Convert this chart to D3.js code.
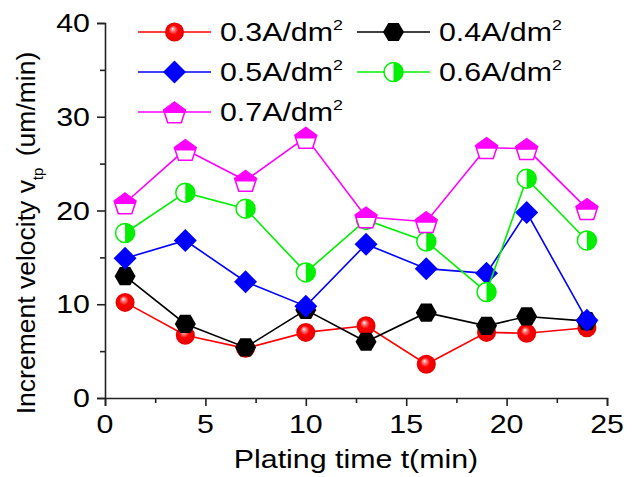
<!DOCTYPE html>
<html>
<head>
<meta charset="utf-8">
<script src="https://cdn.jsdelivr.net/npm/d3@7"></script>
<style>
  html, body { margin: 0; padding: 0; background: #fff; }
  svg { display: block; }
  text { font-family: Arial, "Liberation Sans", sans-serif; fill: #000; }
</style>
</head>
<body>
<div id="chart"></div>
<script>
// ---- data ----
const times = [1, 4, 7, 10, 13, 16, 19, 21, 24];
const seriesNames = ["0.3A/dm", "0.4A/dm", "0.5A/dm", "0.6A/dm", "0.7A/dm"];
const v03 = [10.2, 6.7, 5.3, 7.0, 7.7, 3.6, 7.0, 6.9, 7.5];
const v04 = [13.0, 7.9, 5.4, 9.4, 6.0, 9.1, 7.7, 8.7, 8.2];
const v05 = [14.9, 16.8, 12.4, 9.8, 16.4, 13.8, 13.3, 19.8, 8.3];
const v06 = [17.6, 21.9, 20.2, 13.4, 19.0, 16.7, 11.3, 23.4, 16.8];
const v07 = [20.8, 26.5, 23.2, 27.8, 19.3, 18.8, 26.7, 26.6, 20.2];
const xTicks = [0, 5, 10, 15, 20, 25];
const yTicks = [0, 10, 20, 30, 40];
const xMinor = [2.5, 7.5, 12.5, 17.5, 22.5];
const yMinor = [5, 15, 25, 35];
const xTitle = "Plating time t(min)";

const colors = ["#ff0000", "#000000", "#0000ff", "#00f000", "#ff00ff"];
const markers = ["sphere", "hexagon", "diamond", "halfcircle", "pentagon"];
const values = [v03, v04, v05, v06, v07];

const W = 638, H = 477;
const svg = d3.select("#chart").append("svg").attr("width", W).attr("height", H);
const defs = svg.append("defs");
const grad = defs.append("radialGradient").attr("id", "sphere")
  .attr("cx", "50%").attr("cy", "50%").attr("r", "55%").attr("fx", "40%").attr("fy", "32%");
grad.append("stop").attr("offset", "0%").attr("stop-color", "#ffffff");
grad.append("stop").attr("offset", "15%").attr("stop-color", "#ff9090");
grad.append("stop").attr("offset", "45%").attr("stop-color", "#ff0000");
grad.append("stop").attr("offset", "100%").attr("stop-color", "#e00000");

const x = d3.scaleLinear().domain([0, 25]).range([105, 607]);
const y = d3.scaleLinear().domain([0, 40]).range([398, 23]);
const SX = 1.19; // horizontal stretch of text
const FS = 25.5;

// axes
const axB = svg.append("g").attr("transform", `translate(0,${y(0)})`)
  .call(d3.axisBottom(x).tickValues(xTicks).tickSize(8).tickFormat(""));
const axBm = svg.append("g").attr("transform", `translate(0,${y(0)})`)
  .call(d3.axisBottom(x).tickValues(xMinor).tickSize(5).tickFormat(""));
const axL = svg.append("g").attr("transform", `translate(${x(0)},0)`)
  .call(d3.axisLeft(y).tickValues(yTicks).tickSize(8).tickFormat(""));
const axLm = svg.append("g").attr("transform", `translate(${x(0)},0)`)
  .call(d3.axisLeft(y).tickValues(yMinor).tickSize(5).tickFormat(""));
[axB, axBm, axL, axLm].forEach(a => {
  a.selectAll("path").attr("stroke", "#222").attr("stroke-width", 1.6);
  a.selectAll("line").attr("stroke", "#222").attr("stroke-width", 1.6);
});
axBm.select("path").remove();
axLm.select("path").remove();

function stretchedText(g, tx, ty, anchor, str, fs) {
  return g.append("text")
    .attr("transform", `translate(${tx},${ty}) scale(${SX},1)`)
    .attr("text-anchor", anchor)
    .style("font-size", (fs || FS) + "px")
    .text(str);
}
const lab = svg.append("g");
xTicks.forEach(t => stretchedText(lab, x(t), 433, "middle", String(t)));
yTicks.forEach(t => stretchedText(lab, 90, y(t) + 9, "end", String(t)));
stretchedText(lab, (x(0) + x(25)) / 2, 468, "middle", xTitle);

// y title
const yt = svg.append("text")
  .attr("transform", `translate(35,233) rotate(-90)`)
  .attr("text-anchor", "middle")
  .style("font-size", "26.5px");
yt.append("tspan").text("Increment velocity v");
yt.append("tspan").attr("dy", 8).style("font-size", "15px").text("tp");
yt.append("tspan").attr("dy", -8).attr("dx", 4).text(" (um/min)");

// markers
function drawMarker(g, type, color) {
  if (type === "sphere") {
    g.append("circle").attr("r", 9.5).attr("fill", "url(#sphere)");
  } else if (type === "hexagon") {
    const r = 10.5;
    const pts = d3.range(6).map(i => [r * Math.cos(i * Math.PI / 3), r * Math.sin(i * Math.PI / 3)]);
    g.append("polygon").attr("points", pts.map(p => p.join(",")).join(" ")).attr("fill", color);
  } else if (type === "diamond") {
    const r = 11.5;
    g.append("polygon").attr("points", `0,${-r} ${r},0 0,${r} ${-r},0`).attr("fill", color);
  } else if (type === "halfcircle") {
    const r = 9.5;
    g.append("circle").attr("r", r).attr("fill", "#fff").attr("stroke", color).attr("stroke-width", 1.5);
    g.append("path").attr("d", `M0,${-r} A${r},${r} 0 0,1 0,${r} Z`).attr("fill", color);
  } else if (type === "pentagon") {
    const r = 11.5;
    const pts = d3.range(5).map(i => {
      const a = -Math.PI / 2 + i * 2 * Math.PI / 5;
      return [r * Math.cos(a), r * Math.sin(a) + 1.5];
    });
    const ps = pts.map(p => p.join(",")).join(" ");
    g.append("polygon").attr("points", ps).attr("fill", "#fff");
    const split = 1;
    const clipId = "pclip" + Math.random().toString(36).slice(2, 8);
    g.append("clipPath").attr("id", clipId).append("rect")
      .attr("x", -20).attr("y", -20).attr("width", 40).attr("height", 20 + split);
    g.append("polygon").attr("points", ps).attr("fill", color).attr("clip-path", `url(#${clipId})`);
    g.append("polygon").attr("points", ps).attr("fill", "none").attr("stroke", color).attr("stroke-width", 1.5);
  }
}

const line = d3.line().x((d, i) => x(times[i])).y(d => y(d));
values.forEach((vals, si) => {
  const g = svg.append("g");
  g.append("path").attr("d", line(vals)).attr("fill", "none")
    .attr("stroke", colors[si]).attr("stroke-width", 1.6);
  vals.forEach((v, i) => {
    const mg = g.append("g").attr("transform", `translate(${x(times[i])},${y(v)})`);
    drawMarker(mg, markers[si], colors[si]);
  });
});

// legend
const legPos = [[138, 32], [357, 32], [138, 72], [357, 72], [138, 112]];
seriesNames.forEach((name, si) => {
  const [lx, ly] = legPos[si];
  const g = svg.append("g");
  g.append("line").attr("x1", lx).attr("x2", lx + 73).attr("y1", ly).attr("y2", ly)
    .attr("stroke", colors[si]).attr("stroke-width", 1.6);
  drawMarker(g.append("g").attr("transform", `translate(${lx + 36.5},${ly})`), markers[si], colors[si]);
  const t = g.append("text")
    .attr("transform", `translate(${lx + 82},${ly + 9}) scale(${SX},1)`)
    .style("font-size", FS + "px");
  t.append("tspan").text(name);
  t.append("tspan").attr("dy", -11).style("font-size", "15px").text("2");
});
</script>
</body>
</html>
